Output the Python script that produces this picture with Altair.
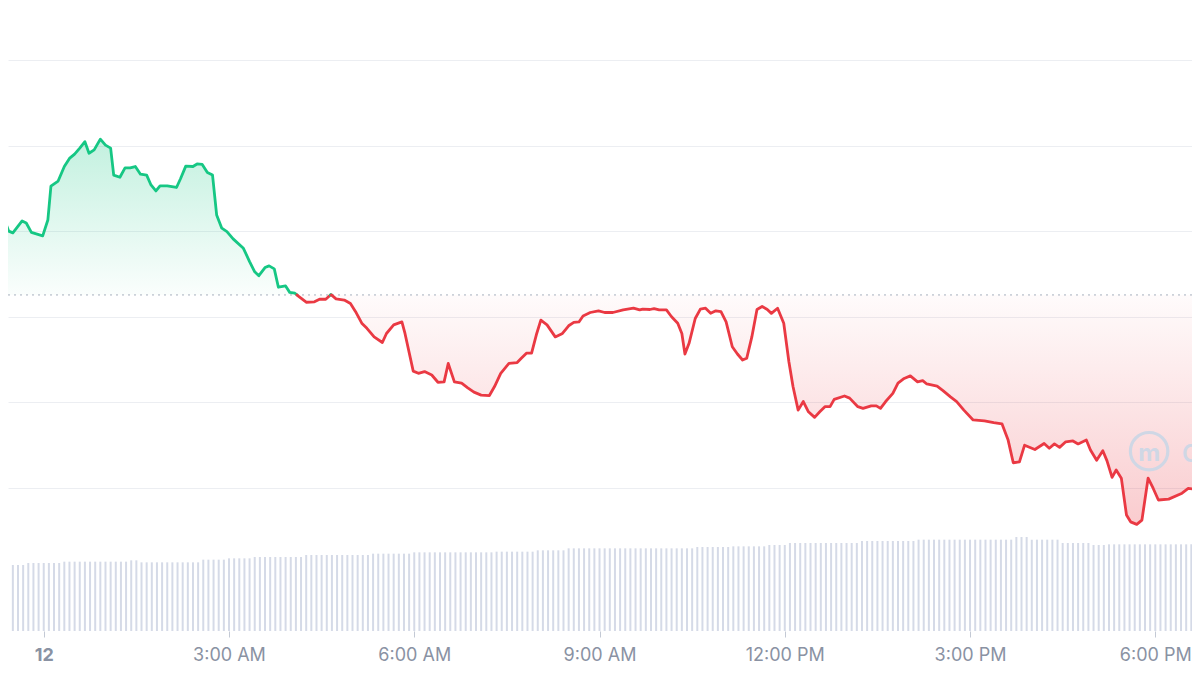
import json
import altair as alt
import pandas as pd

# ---------------- data ----------------
# price series: minutes since midnight (day 12) and price
times = [-38, -34, -30, -21, -17, -12, -1, 4, 7, 14,
         20, 25, 30, 35, 40, 44, 49, 55, 60, 65,
         68, 74, 79, 84, 89, 94, 100, 104, 109, 113,
         120, 129, 133, 138, 145, 149, 154, 159, 164, 168,
         173, 178, 184, 194, 200, 205, 209, 215, 219, 224,
         228, 235, 239, 244, 248, 255, 263, 268, 274, 279,
         284, 292, 298, 303, 309, 314, 321, 329, 333, 340,
         348, 351, 359, 364, 370, 377, 383, 389, 393, 399,
         406, 412, 418, 425, 433, 438, 444, 452, 460, 464,
         469, 474, 479, 483, 489, 497, 504, 510, 515, 520,
         524, 531, 539, 545, 553, 563, 573, 579, 582, 589,
         593, 598, 605, 610, 616, 620, 623, 627, 633, 638,
         643, 648, 653, 658, 663, 669, 674, 679, 683, 688,
         693, 698, 703, 707, 713, 719, 724, 728, 733, 738,
         743, 749, 754, 759, 764, 768, 778, 783, 791, 796,
         804, 809, 813, 818, 825, 830, 836, 842, 849, 854,
         858, 868, 874, 881, 887, 894, 903, 914, 923, 931,
         937, 942, 948, 953, 963, 972, 977, 982, 987, 993,
         1000, 1005, 1013, 1017, 1023, 1029, 1033, 1038, 1042, 1047,
         1052, 1056, 1062, 1067, 1073, 1078, 1083, 1093, 1106, 1112,
         1119]

prices = [0.37626, 0.37600, 0.37596, 0.37624, 0.37619, 0.37597, 0.37589, 0.37626, 0.37705, 0.37717,
          0.37751, 0.37770, 0.37780, 0.37794, 0.37809, 0.37782, 0.37790, 0.37815, 0.37801, 0.37794,
          0.37731, 0.37726, 0.37748, 0.37748, 0.37751, 0.37733, 0.37731, 0.37709, 0.37694, 0.37706,
          0.37706, 0.37702, 0.37723, 0.37752, 0.37751, 0.37757, 0.37756, 0.37737, 0.37731, 0.37638,
          0.37607, 0.37599, 0.37582, 0.37560, 0.37529, 0.37505, 0.37496, 0.37515, 0.37519, 0.37512,
          0.37469, 0.37472, 0.37457, 0.37455, 0.37447, 0.37434, 0.37435, 0.37441, 0.37441, 0.37452,
          0.37442, 0.37439, 0.37431, 0.37412, 0.37385, 0.37373, 0.37353, 0.37340, 0.37361, 0.37381,
          0.37388, 0.37361, 0.37273, 0.37268, 0.37272, 0.37264, 0.37247, 0.37248, 0.37291, 0.37248,
          0.37245, 0.37234, 0.37224, 0.37217, 0.37216, 0.37237, 0.37268, 0.37291, 0.37293, 0.37303,
          0.37315, 0.37315, 0.37361, 0.37392, 0.37381, 0.37353, 0.37361, 0.37379, 0.37387, 0.37388,
          0.37402, 0.37410, 0.37414, 0.37410, 0.37410, 0.37416, 0.37420, 0.37416, 0.37418, 0.37417,
          0.37419, 0.37416, 0.37416, 0.37400, 0.37385, 0.37361, 0.37313, 0.37338, 0.37396, 0.37418,
          0.37420, 0.37408, 0.37414, 0.37412, 0.37388, 0.37330, 0.37313, 0.37299, 0.37303, 0.37353,
          0.37417, 0.37424, 0.37417, 0.37408, 0.37420, 0.37385, 0.37295, 0.37237, 0.37182, 0.37202,
          0.37178, 0.37165, 0.37178, 0.37190, 0.37190, 0.37207, 0.37215, 0.37210, 0.37190, 0.37186,
          0.37192, 0.37192, 0.37186, 0.37202, 0.37221, 0.37245, 0.37256, 0.37262, 0.37248, 0.37251,
          0.37243, 0.37238, 0.37227, 0.37213, 0.37202, 0.37182, 0.37159, 0.37157, 0.37153, 0.37150,
          0.37112, 0.37059, 0.37061, 0.37100, 0.37090, 0.37104, 0.37093, 0.37103, 0.37095, 0.37108,
          0.37110, 0.37103, 0.37112, 0.37089, 0.37065, 0.37087, 0.37064, 0.37025, 0.37042, 0.37023,
          0.36937, 0.36921, 0.36915, 0.36925, 0.37023, 0.36999, 0.36972, 0.36974, 0.36988, 0.36999,
          0.36997]

base_price = 0.37451  # opening price (dotted reference line)

# 5-minute volume bars (arbitrary units), first bar at -30 min
vol_start = -30
vol_step = 5
volumes = [99, 99, 99, 102, 102, 102, 102, 102, 102, 102,
           104, 104, 104, 104, 104, 104, 104, 104, 104, 104,
           104, 104, 104, 106, 106, 103, 103, 103, 103, 103,
           103, 103, 103, 103, 103, 103, 103, 107, 107, 107,
           107, 107, 109, 109, 109, 109, 109, 111, 111, 111,
           111, 111, 111, 111, 111, 111, 111, 114, 114, 114,
           114, 114, 114, 114, 114, 114, 114, 114, 114, 114,
           116, 116, 116, 116, 116, 116, 116, 116, 118, 118,
           118, 118, 118, 118, 118, 118, 118, 118, 118, 118,
           118, 118, 118, 118, 119, 119, 119, 119, 119, 119,
           119, 119, 121, 121, 121, 121, 121, 121, 124, 124,
           124, 124, 124, 124, 124, 124, 124, 124, 124, 124,
           124, 124, 124, 124, 124, 124, 124, 124, 124, 124,
           124, 124, 124, 126, 126, 126, 126, 126, 126, 126,
           127, 127, 127, 127, 127, 127, 127, 129, 129, 129,
           129, 132, 132, 132, 132, 132, 132, 132, 132, 132,
           132, 132, 132, 132, 132, 135, 135, 135, 135, 135,
           135, 135, 135, 135, 135, 135, 137, 137, 137, 137,
           137, 137, 137, 137, 137, 137, 137, 137, 137, 137,
           137, 137, 137, 137, 137, 141, 141, 141, 137, 137,
           137, 137, 137, 137, 132, 132, 132, 132, 132, 132,
           129, 129, 129, 130, 130, 130, 130, 130, 130, 130,
           130, 130, 130, 130, 130, 130, 130, 130, 130, 130]

tick_values = [0, 180, 360, 540, 720, 900, 1080]
tick_labels = ["12", "3:00 AM", "6:00 AM", "9:00 AM", "12:00 PM", "3:00 PM", "6:00 PM"]
grid_values = [0.370, 0.372, 0.374, 0.376, 0.378, 0.380]

X_DOMAIN = [-29.86, 1110.8]
P_DOMAIN = [0.36666, 0.381213]
V_DOMAIN = [0, 934.5]

GREEN = "#16c784"
RED = "#ea3943"
LABEL = "#8a92a3"
WM = "#cfd7e5"

# ---------------- derived tables ----------------
pts = []
for i, (t, p) in enumerate(zip(times, prices)):
    if i > 0:
        t0, p0 = times[i - 1], prices[i - 1]
        if (p0 - base_price) * (p - base_price) < 0:
            tc = t0 + (t - t0) * (base_price - p0) / (p - p0)
            pts.append((tc, base_price))
    pts.append((t, p))

area_df = pd.DataFrame(pts, columns=["t", "p"])
area_df["hi"] = area_df["p"].clip(lower=base_price)
area_df["lo"] = area_df["p"].clip(upper=base_price)
area_df["base"] = base_price

line_rows = []
run = -1
prev_side = None
for j in range(1, len(pts)):
    (ta, pa), (tb, pb) = pts[j - 1], pts[j]
    side = "up" if (pa + pb) / 2 >= base_price else "down"
    if side != prev_side:
        run += 1
        line_rows.append({"t": ta, "p": pa, "side": side, "run": run})
        prev_side = side
    line_rows.append({"t": tb, "p": pb, "side": side, "run": run})
line_df = pd.DataFrame(line_rows)

vol_df = pd.DataFrame({"t": [vol_start + vol_step * k for k in range(len(volumes))],
                       "v": volumes})
base_df = pd.DataFrame({"base": [base_price]})
wm_df = pd.DataFrame({"t": [1074], "p": [0.37086]})
wm_text_df = pd.DataFrame({"t": [1106], "p": [0.37061], "txt": ["CoinMarketCap"]})
wm_m_df = pd.DataFrame({"t": [1074], "p": [0.37080], "txt": ["m"]})

# ---------------- encodings ----------------
label_expr = "%s[indexof(%s, datum.value)]" % (json.dumps(tick_labels), json.dumps(tick_values))
x_axis = alt.Axis(values=tick_values, labelExpr=label_expr, title=None, grid=False,
                  domain=False, ticks=True, tickSize=6, tickColor="#c3c9d4", tickWidth=1,
                  labelColor=LABEL, labelFont="Inter", labelFontSize=18,
                  labelFontWeight={"condition": {"test": "datum.value == 0", "value": "bold"},
                                   "value": "normal"},
                  labelPadding=9, labelOverlap=False, labelFlush=False)
xs = alt.Scale(domain=X_DOMAIN, nice=False, zero=False)


def X(field="t"):
    return alt.X(f"{field}:Q", scale=xs, axis=x_axis)


ps = alt.Scale(domain=P_DOMAIN, nice=False, zero=False)

green_grad = alt.Gradient(gradient="linear",
                          stops=[alt.GradientStop(color="rgba(22,199,132,0.26)", offset=0),
                                 alt.GradientStop(color="rgba(22,199,132,0.02)", offset=1)],
                          x1=0, x2=0, y1=0, y2=1)
red_grad = alt.Gradient(gradient="linear",
                        stops=[alt.GradientStop(color="rgba(234,57,67,0.02)", offset=0),
                               alt.GradientStop(color="rgba(234,57,67,0.26)", offset=1)],
                        x1=0, x2=0, y1=0, y2=1)

vol = alt.Chart(vol_df).mark_bar(width=2, color="#d5dae7", clip=True).encode(
    x=X(),
    y=alt.Y("v:Q", scale=alt.Scale(domain=V_DOMAIN, nice=False), axis=None),
)

green_area = alt.Chart(area_df).mark_area(fill=green_grad, clip=True, strokeWidth=0).encode(
    x=X(),
    y=alt.Y("hi:Q", scale=ps,
            axis=alt.Axis(values=grid_values, grid=True, labels=False, ticks=False,
                          domain=False, title=None, gridColor="#eceef2", gridWidth=1)),
    y2="base:Q",
)

red_area = alt.Chart(area_df).mark_area(fill=red_grad, clip=True, strokeWidth=0).encode(
    x=X(),
    y=alt.Y("lo:Q", scale=ps, axis=None),
    y2="base:Q",
)

base_rule = alt.Chart(base_df).mark_rule(color="#a7afbd", strokeWidth=1, strokeDash=[2, 4]).encode(
    y=alt.Y("base:Q", scale=ps, axis=None),
)

wm_circle = alt.Chart(wm_df).mark_point(shape="circle", size=1400, filled=False,
                                        stroke=WM, strokeWidth=3.2, opacity=1).encode(
    x=X(),
    y=alt.Y("p:Q", scale=ps, axis=None),
)
wm_m = alt.Chart(wm_m_df).mark_text(font="Inter", fontSize=24, fontWeight="bold", color=WM,
                                    baseline="middle", align="center").encode(
    x=X(),
    y=alt.Y("p:Q", scale=ps, axis=None),
    text="txt:N",
)
wm_text = alt.Chart(wm_text_df).mark_text(font="Inter", fontSize=24, fontWeight=600, color=WM,
                                          align="left", baseline="alphabetic", clip=True).encode(
    x=X(),
    y=alt.Y("p:Q", scale=ps, axis=None),
    text="txt:N",
)

lines = alt.Chart(line_df).mark_line(strokeWidth=2.8, strokeJoin="round", strokeCap="round",
                                     clip=True).encode(
    x=X(),
    y=alt.Y("p:Q", scale=ps, axis=None),
    color=alt.Color("side:N", scale=alt.Scale(domain=["up", "down"], range=[GREEN, RED]),
                    legend=None),
    detail="run:N",
    order="t:Q",
)

chart = alt.layer(
    vol, green_area, red_area, base_rule, wm_circle, wm_m, wm_text, lines
).resolve_scale(y="independent").properties(
    width=1184, height=623,
    autosize=alt.AutoSizeParams(type="none"),
    padding={"left": 0, "right": 0, "top": 0, "bottom": 36},
    background="white",
).configure_view(stroke=None)

chart.save("out.html", embed_options={"renderer": "svg", "actions": False})
